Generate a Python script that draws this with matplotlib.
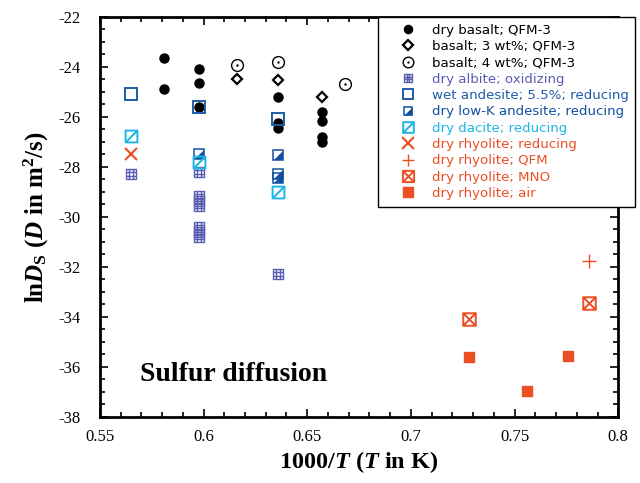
import matplotlib
matplotlib.use('Agg')
import matplotlib.pyplot as plt
from matplotlib.path import Path
from matplotlib.lines import Line2D
from matplotlib.legend_handler import HandlerTuple
from matplotlib.ticker import MultipleLocator

plt.rcParams['axes.unicode_minus'] = False
plt.rcParams['mathtext.fontset'] = 'custom'
plt.rcParams['mathtext.rm'] = 'Liberation Serif:bold'
plt.rcParams['mathtext.it'] = 'Liberation Serif:italic:bold'
plt.rcParams['mathtext.bf'] = 'Liberation Serif:bold'

# 1000/T and lnD for each series
basalt_dry_x = [0.581, 0.581, 0.598, 0.598, 0.598, 0.636, 0.636, 0.636, 0.657, 0.657, 0.657, 0.657]
basalt_dry_y = [-23.63, -24.87, -24.08, -24.63, -25.59, -25.21, -26.25, -26.45, -25.81, -26.15, -26.81, -26.99]
basalt_3_x = [0.616, 0.636, 0.657]
basalt_3_y = [-24.47, -24.52, -25.20]
basalt_4_x = [0.616, 0.636, 0.668]
basalt_4_y = [-23.91, -23.80, -24.69]
albite_x = [0.565, 0.598, 0.598, 0.598, 0.598, 0.598, 0.598, 0.598, 0.636]
albite_y = [-28.28, -28.20, -29.16, -29.36, -29.56, -30.40, -30.60, -30.80, -32.28]
wet_andesite_x = [0.565, 0.598, 0.636]
wet_andesite_y = [-25.09, -25.59, -26.09]
lowk_andesite_x = [0.598, 0.636, 0.636, 0.636]
lowk_andesite_y = [-27.50, -27.51, -28.28, -28.45]
dacite_x = [0.565, 0.598, 0.636]
dacite_y = [-26.76, -27.82, -29.01]
rhy_red_x = [0.565]
rhy_red_y = [-27.49]
rhy_qfm_x = [0.786]
rhy_qfm_y = [-31.75]
rhy_mno_x = [0.728, 0.786]
rhy_mno_y = [-34.09, -33.45]
rhy_air_x = [0.728, 0.756, 0.776]
rhy_air_y = [-35.59, -36.95, -35.55]

labels = ['dry basalt; QFM-3', 'basalt; 3 wt%; QFM-3', 'basalt; 4 wt%; QFM-3',
          'dry albite; oxidizing', 'wet andesite; 5.5%; reducing',
          'dry low-K andesite; reducing', 'dry dacite; reducing',
          'dry rhyolite; reducing', 'dry rhyolite; QFM', 'dry rhyolite; MNO',
          'dry rhyolite; air']

c_albite = '#5a5db2'
c_wet = '#1f5ca8'
c_lowk = '#1550a0'
c_dacite = '#1cb6e6'
c_rhy = '#ec4f24'

M, L, C = Path.MOVETO, Path.LINETO, Path.CLOSEPOLY
sq_v = [(-1, -1), (1, -1), (1, 1), (-1, 1), (-1, -1)]
sq_c = [M, L, L, L, C]
t = 1 / 3
grid_mk = Path(sq_v + [(-t, -1), (-t, 1), (t, -1), (t, 1), (-1, -t), (1, -t), (-1, t), (1, t)],
               sq_c + [M, L] * 4)
slash_mk = Path(sq_v + [(-1, -1), (1, 1)], sq_c + [M, L])
boxx_mk = Path(sq_v + [(-1, -1), (1, 1), (-1, 1), (1, -1)], sq_c + [M, L, M, L])
tri_mk = Path([(1, -1), (1, 1), (-1, -1), (1, -1)], [M, L, L, C])

fig = plt.figure(figsize=(6.4, 4.83), dpi=100)
ax = fig.add_axes([0.156, 0.137, 0.81, 0.828])

styles = [
    [dict(marker='o', ms=6.5, color='black', ls='none')],
    [dict(marker='D', ms=5.5, mfc='none', mec='black', mew=1.6, ls='none')],
    [dict(marker='o', ms=8.5, mfc='none', mec='black', mew=1.0, ls='none'),
     dict(marker='.', ms=1.5, color='black', ls='none')],
    [dict(marker=grid_mk, ms=7, mfc='none', mec=c_albite, mew=1.0, ls='none')],
    [dict(marker='s', ms=8.5, mfc='none', mec=c_wet, mew=1.4, ls='none')],
    [dict(marker=tri_mk, ms=6.5, mfc=c_lowk, mec=c_lowk, mew=0, ls='none'),
     dict(marker='s', ms=6.5, mfc='none', mec=c_lowk, mew=1.1, ls='none')],
    [dict(marker=slash_mk, ms=8.5, mfc='none', mec=c_dacite, mew=1.4, ls='none')],
    [dict(marker='x', ms=9, mec=c_rhy, mew=1.5, ls='none')],
    [dict(marker='+', ms=9.5, mec=c_rhy, mew=1.0, ls='none')],
    [dict(marker=boxx_mk, ms=9, mfc='none', mec=c_rhy, mew=1.4, ls='none')],
    [dict(marker='s', ms=7.5, color=c_rhy, ls='none')],
]
colors = ['black', 'black', 'black', c_albite, c_wet, c_lowk, c_dacite, c_rhy, c_rhy, c_rhy, c_rhy]
series = [(basalt_dry_x, basalt_dry_y), (basalt_3_x, basalt_3_y), (basalt_4_x, basalt_4_y),
          (albite_x, albite_y), (wet_andesite_x, wet_andesite_y),
          (lowk_andesite_x, lowk_andesite_y), (dacite_x, dacite_y),
          (rhy_red_x, rhy_red_y), (rhy_qfm_x, rhy_qfm_y), (rhy_mno_x, rhy_mno_y),
          (rhy_air_x, rhy_air_y)]

# open squares go over the basalt circles, so draw basalt first
handles = []
for (xs, ys), st in zip(series, styles):
    hs = []
    for s in st:
        ax.plot(xs, ys, **s)
        hs.append(Line2D([], [], **s))
    handles.append(tuple(hs) if len(hs) > 1 else hs[0])

ax.set_xlim(0.55, 0.8)
ax.set_ylim(-38, -22)
ax.xaxis.set_major_locator(MultipleLocator(0.05))
ax.xaxis.set_minor_locator(MultipleLocator(0.01))
ax.yaxis.set_major_locator(MultipleLocator(2))
ax.yaxis.set_minor_locator(MultipleLocator(0.5))
ax.set_xticks([0.55, 0.6, 0.65, 0.7, 0.75, 0.8], ['0.55', '0.6', '0.65', '0.7', '0.75', '0.8'])
ax.tick_params(which='both', direction='in', top=True, right=True, width=1.2)
ax.tick_params(which='major', length=6, labelsize=12)
ax.tick_params(which='minor', length=3.5)
ax.tick_params(axis='x', which='major', pad=9)
ax.tick_params(axis='y', which='major', pad=14)
for lab in ax.get_xticklabels() + ax.get_yticklabels():
    lab.set_fontfamily('Liberation Serif')
for sp in ax.spines.values():
    sp.set_linewidth(2)

ax.set_xlabel(r'1000/$T$ ($T$ in K)', fontsize=17.5, fontfamily='Liberation Serif',
              fontweight='bold', labelpad=3)
ax.set_ylabel(r'ln$D_\mathrm{S}$ ($D$ in m$^2$/s)', fontsize=18, fontfamily='Liberation Serif',
              fontweight='bold', labelpad=5)

ax.text(0.5693, -36.3, 'Sulfur diffusion', fontsize=20, fontfamily='Liberation Serif',
        fontweight='bold', va='center')

leg = fig.legend(handles, labels, loc='upper left', bbox_to_anchor=(0.591, 0.965),
                 handler_map={tuple: HandlerTuple(ndivide=1, pad=0)},
                 prop={'family': 'DejaVu Sans', 'size': 9.6}, labelcolor=colors,
                 frameon=True, fancybox=False, edgecolor='black', framealpha=1,
                 borderpad=0.5, labelspacing=0.25, handlelength=3.4, handletextpad=0.1,
                 borderaxespad=0, markerscale=0.9, numpoints=1)
leg.get_frame().set_linewidth(1.0)

fig.savefig('out.png', dpi=100)
